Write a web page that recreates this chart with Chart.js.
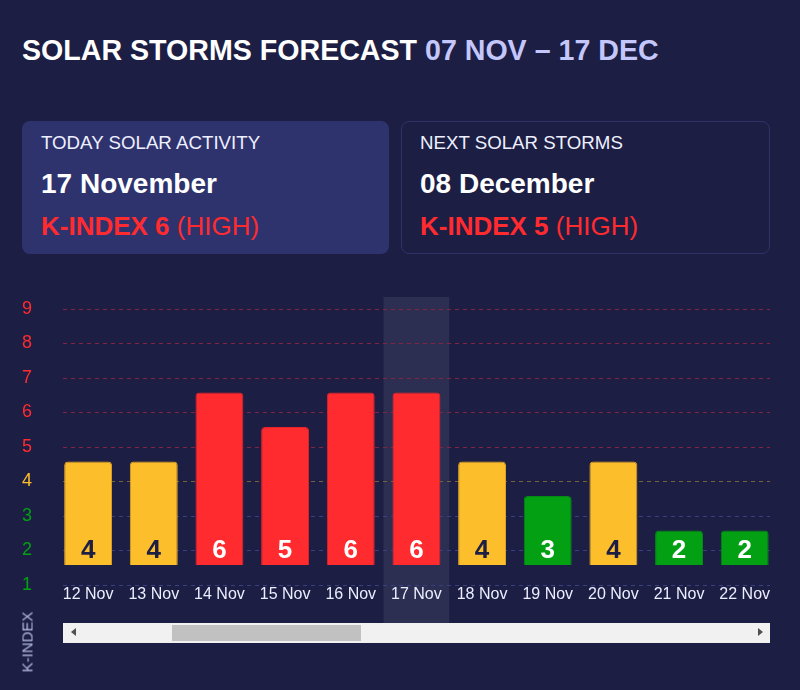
<!DOCTYPE html>
<html>
<head>
<meta charset="utf-8">
<script src="https://cdn.jsdelivr.net/npm/chart.js@4.4.1/dist/chart.umd.min.js"></script>
<style>
  html, body { margin: 0; padding: 0; }
  body {
    width: 800px; height: 690px; overflow: hidden; position: relative;
    background: #1c1e44; font-family: "Liberation Sans", Arial, sans-serif; color: #fff;
  }
  .title { position: absolute; left: 22px; top: 34px; font-size: 28.6px; line-height: 32px; font-weight: bold; white-space: nowrap; }
  .title span { color: #c4c7fb; }
  .card { position: absolute; top: 121px; height: 133px; box-sizing: border-box; border-radius: 8px; }
  .card.today { left: 22px; width: 367px; background: #2e336e; }
  .card.next { left: 401px; width: 369px; border: 1px solid #2e3269; }
  .card div { position: absolute; left: 19px; white-space: nowrap; }
  .card .lbl { top: 12px; font-size: 18.7px; line-height: 20px; color: #eef0ff; }
  .card .date { top: 47px; font-size: 28px; line-height: 32px; font-weight: bold; }
  .card .kidx { top: 90px; font-size: 26px; line-height: 30px; color: #ff2b2f; }
  .card .kidx b { font-weight: bold; }
  .card.next .lbl { left: 18px; top: 11px; }
  .card.next .date { left: 18px; top: 46px; }
  .card.next .kidx { left: 18px; top: 89px; }
  #axisWrap { position: absolute; left: 0; top: 297px; width: 63px; height: 326px; }
  #scroller { position: absolute; left: 63px; top: 297px; width: 707px; height: 326px; overflow: hidden; }
  .ytitle { position: absolute; left: 27px; top: 642px; transform: translate(-50%, -50%) rotate(-90deg); font-size: 15px; color: #b3b7df; white-space: nowrap; }
  /* scrollbar under the chart */
  .sbar { position: absolute; left: 63px; top: 623px; width: 707px; height: 20px; background: #f1f1f1; }
  .sbar .thumb { position: absolute; left: 109px; top: 2px; width: 189px; height: 16px; background: #c1c1c1; }
  .sbar .arr { position: absolute; top: 5px; width: 0; height: 0; border-top: 4.5px solid transparent; border-bottom: 4.5px solid transparent; }
  .sbar .arr.l { left: 8px; border-right: 5px solid #505050; }
  .sbar .arr.r { left: 695px; border-left: 5px solid #505050; }
</style>
</head>
<body>
<div class="title">SOLAR STORMS FORECAST <span>07 NOV – 17 DEC</span></div>

<div class="card today">
  <div class="lbl">TODAY SOLAR ACTIVITY</div>
  <div class="date">17 November</div>
  <div class="kidx"><b>K-INDEX 6</b> (HIGH)</div>
</div>
<div class="card next">
  <div class="lbl">NEXT SOLAR STORMS</div>
  <div class="date">08 December</div>
  <div class="kidx"><b>K-INDEX 5</b> (HIGH)</div>
</div>

<div id="axisWrap"><canvas id="axisChart" width="63" height="326"></canvas></div>
<div id="scroller"><canvas id="kChart" width="2692" height="326"></canvas></div>
<div class="sbar"><div class="arr l"></div><div class="thumb"></div><div class="arr r"></div></div>
<div class="ytitle">K-INDEX</div>

<script>
// forecast days 07 Nov - 17 Dec
const days = [
  "07 Nov", "08 Nov", "09 Nov", "10 Nov", "11 Nov", "12 Nov", "13 Nov", "14 Nov",
  "15 Nov", "16 Nov", "17 Nov", "18 Nov", "19 Nov", "20 Nov", "21 Nov", "22 Nov",
  "23 Nov", "24 Nov", "25 Nov", "26 Nov", "27 Nov", "28 Nov", "29 Nov", "30 Nov",
  "01 Dec", "02 Dec", "03 Dec", "04 Dec", "05 Dec", "06 Dec", "07 Dec", "08 Dec",
  "09 Dec", "10 Dec", "11 Dec", "12 Dec", "13 Dec", "14 Dec", "15 Dec", "16 Dec",
  "17 Dec",
];
// K-index per day (null = not visible in the scrolled view)
const kIndex = [
  null, null, null, null, null, 4, 4, 6,
  5, 6, 6, 4, 3, 4, 2, 2,
  null, null, null, null, null, null, null, null,
  null, null, null, null, null, null, null, 5,
  null, null, null, null, null, null, null, null,
  null,
];
const yTicks = [1, 2, 3, 4, 5, 6, 7, 8, 9];
const today = "17 Nov";

const RED = "#ff2b2f";
const YELLOW = "#fdbe2c";
const GREEN = "#03a013";
const BG = "#1c1e44";

function levelColor(v) {
  if (v >= 5) return RED;
  if (v === 4) return YELLOW;
  return GREEN;
}
function edgeColor(v) {
  if (v >= 5) return "#e82428";
  if (v === 4) return "#e3a424";
  return "#048a12";
}
function gridColor(v) {
  if (v >= 5) return "#82233f";
  if (v === 4) return "#7a6233";
  return "#3a3f84";
}

const yMin = yTicks[0];
const yMax = yTicks[yTicks.length - 1];
const barLift = 0.58; // bars sit a bit above the "1" grid line

// highlight column behind today
const todayBand = {
  id: "todayBand",
  beforeDraw(chart) {
    const x = chart.scales.x;
    const i = x.getLabels().indexOf(today);
    if (i < 0) return;
    const w = x.getPixelForValue(1) - x.getPixelForValue(0);
    const cx = x.getPixelForValue(i);
    const ctx = chart.ctx;
    ctx.save();
    ctx.fillStyle = "rgba(255,255,255,0.08)";
    ctx.fillRect(cx - w / 2, 0, w, chart.height);
    ctx.restore();
  },
};

// value printed near the foot of each bar
const barValues = {
  id: "barValues",
  afterDatasetsDraw(chart) {
    const ctx = chart.ctx;
    const meta = chart.getDatasetMeta(0);
    ctx.save();
    ctx.font = "bold 26px 'Liberation Sans', Arial, sans-serif";
    ctx.textAlign = "center";
    ctx.textBaseline = "middle";
    meta.data.forEach((bar, i) => {
      const v = chart.data.datasets[0].data[i];
      if (v == null) return;
      ctx.fillStyle = v === 4 ? BG : "#ffffff";
      ctx.fillText(v, bar.x, bar.base - 14);
    });
    ctx.restore();
  },
};

const kChart = new Chart(document.getElementById("kChart"), {
  type: "bar",
  data: {
    labels: days,
    datasets: [
      {
        data: kIndex,
        yAxisID: "yBar",
        base: yMin,
        backgroundColor: (c) => levelColor(c.raw),
        borderColor: (c) => edgeColor(c.raw),
        borderWidth: 1,
        borderRadius: 4,
        borderSkipped: "bottom",
        barPercentage: 0.73,
        categoryPercentage: 1,
      },
    ],
  },
  options: {
    responsive: false,
    animation: false,
    layout: { padding: { top: 12 } },
    plugins: { legend: { display: false }, tooltip: { enabled: false } },
    scales: {
      x: {
        grid: { display: false, drawTicks: false },
        border: { display: false },
        ticks: {
          color: "#eceeff",
          font: { family: "'Liberation Sans', Arial, sans-serif", size: 16 },
          padding: 0,
          maxRotation: 0,
          autoSkip: false,
        },
        afterFit: (axis) => { axis.height = 38; },
      },
      y: {
        min: yMin,
        max: yMax,
        ticks: { display: false, stepSize: 1 },
        grid: { color: (c) => gridColor(yTicks[c.index]), drawTicks: false, lineWidth: 1 },
        border: { display: false, dash: [4, 4] },
        afterFit: (axis) => { axis.width = 0; },
      },
      yBar: {
        display: false,
        min: yMin - barLift,
        max: yMax - barLift,
      },
    },
  },
  plugins: [todayBand, barValues],
});

// fixed y axis on the left
const axisChart = new Chart(document.getElementById("axisChart"), {
  type: "bar",
  data: { labels: [""], datasets: [] },
  options: {
    responsive: false,
    animation: false,
    layout: { padding: { top: 12, bottom: 38 } },
    plugins: { legend: { display: false }, tooltip: { enabled: false } },
    scales: {
      x: { display: false },
      y: {
        min: yMin,
        max: yMax,
        grid: { display: false, drawTicks: false },
        border: { display: false },
        ticks: {
          stepSize: 1,
          padding: 0,
          crossAlign: "center",
          color: (c) => levelColor(c.tick.value),
          font: { family: "'Liberation Sans', Arial, sans-serif", size: 18 },
        },
        afterFit: (axis) => { axis.width = 32; },
      },
    },
  },
});

document.getElementById("scroller").scrollLeft = 336;
</script>
</body>
</html>
